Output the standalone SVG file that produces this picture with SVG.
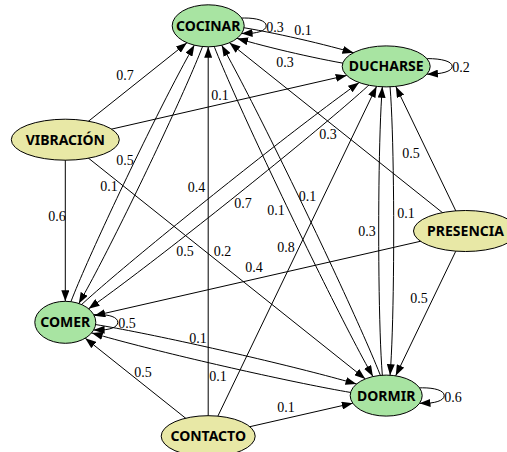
<svg xmlns="http://www.w3.org/2000/svg" width="507" height="452" viewBox="0 0 507 452">
<defs>
<style>
.e{fill:none;stroke:#000;stroke-width:1}
.h{marker-end:url(#ah)}
.a{fill:none;stroke:none;marker-end:url(#ah)}
.n ellipse{stroke:#000;stroke-width:1}
.s ellipse{fill:#a8e4a2}
.o ellipse{fill:#e8e8a6}
.n text{font-family:"Noto Sans","Open Sans",sans-serif;font-weight:bold;font-size:14px;text-anchor:middle;fill:#000}
.l{font-family:"Liberation Serif","Times New Roman",serif;font-size:14px;text-anchor:middle;fill:#000}
</style>
<marker id="ah" viewBox="0 0 11 8" refX="11" refY="4" markerWidth="11" markerHeight="8" markerUnits="userSpaceOnUse" orient="auto"><path d="M0,0L11,4L0,8z" fill="#000"/></marker>
</defs>
<rect width="507" height="452" fill="#fff"/>
<g id="connectors">
<!-- sensor edges (straight) -->
<g id="e-vibracion-cocinar"><path class="e h" d="M65.3,139.7L186.9,42.8"/><text class="l" x="125" y="80">0.7</text></g>
<g id="e-vibracion-ducharse"><path class="e h" d="M65.3,139.7L346.7,75.4"/><text class="l" x="220" y="100">0.1</text></g>
<g id="e-vibracion-comer"><path class="e h" d="M65.3,139.7L65.3,301.3"/><text class="l" x="57" y="221">0.6</text></g>
<g id="e-vibracion-dormir"><path class="e h" d="M65.3,139.7L365.3,378.9"/><text class="l" x="222.5" y="256">0.2</text></g>
<g id="e-presencia-cocinar"><path class="e h" d="M465.5,231L229.5,42.75"/><text class="l" x="328" y="139">0.3</text></g>
<g id="e-presencia-ducharse"><path class="e h" d="M465.5,231L395.8,86.4"/><text class="l" x="411" y="158">0.5</text></g>
<g id="e-presencia-comer"><path class="e h" d="M465.5,231L94.3,315.7"/><text class="l" x="254" y="272">0.4</text></g>
<g id="e-presencia-dormir"><path class="e h" d="M465.5,231L395.7,375.8"/><text class="l" x="419" y="303">0.5</text></g>
<g id="e-contacto-comer"><path class="e h" d="M208.2,436.2L85.2,338.2"/><text class="l" x="143" y="377">0.5</text></g>
<g id="e-contacto-cocinar"><path class="e h" d="M208.2,436.2L208.2,46.8"/><text class="l" x="185" y="256">0.5</text></g>
<g id="e-contacto-ducharse"><path class="e h" d="M208.2,436.2L376.6,86.4"/><text class="l" x="286" y="252">0.8</text></g>
<g id="e-contacto-dormir"><path class="e h" d="M208.2,436.2L352.8,403.2"/><text class="l" x="286" y="412">0.1</text></g>
<!-- state transitions (paired curves) -->
<g id="e-cocinar-ducharse"><path class="e" d="M208.2,25.8C210.4,16.05 388.4,56.65 386.2,66.4"/><path class="a" d="M342.7,49.8L353.5,52.75"/><text class="l" x="303" y="35">0.1</text></g>
<g id="e-ducharse-cocinar"><path class="e" d="M386.2,66.4C384,76.15 206,35.55 208.2,25.8"/><path class="a" d="M247.7,41.35L237.1,38.4"/><text class="l" x="285" y="67">0.3</text></g>
<g id="e-comer-cocinar"><path class="e" d="M65.3,322.3C56.3,318 199.2,21.5 208.2,25.8"/><path class="a" d="M189,54.5L194.4,45.1"/><text class="l" x="109" y="191">0.1</text></g>
<g id="e-cocinar-comer"><path class="e" d="M208.2,25.8C217.2,30.1 74.3,326.6 65.3,322.3"/><path class="a" d="M84.2,293.9L78.85,303.5"/><text class="l" x="125" y="165">0.5</text></g>
<g id="e-cocinar-dormir"><path class="e" d="M208.2,25.8C199.2,30.1 377.2,399.9 386.2,395.6"/><path class="a" d="M367.5,366.8L372.9,376.5"/><text class="l" x="276" y="215">0.1</text></g>
<g id="e-dormir-cocinar"><path class="e" d="M386.2,395.6C395.2,391.3 217.2,21.5 208.2,25.8"/><path class="a" d="M227.1,54.85L221.7,45.3"/><text class="l" x="307.5" y="201">0.1</text></g>
<g id="e-comer-ducharse"><path class="e" d="M65.3,322.3C59.1,314.5 380,58.6 386.2,66.4"/><path class="a" d="M349.8,89.3L359.15,82.6"/><text class="l" x="196.5" y="192">0.4</text></g>
<g id="e-ducharse-comer"><path class="e" d="M386.2,66.4C392.4,74.2 71.5,330.1 65.3,322.3"/><path class="a" d="M97.4,302.5L88.6,308.75"/><text class="l" x="243" y="208">0.7</text></g>
<g id="e-ducharse-dormir"><path class="e" d="M386.2,66.4C396.2,66.4 396.2,395.6 386.2,395.6"/><path class="a" d="M390.8,364.5L390.06,375.2"/><text class="l" x="406" y="218">0.1</text></g>
<g id="e-dormir-ducharse"><path class="e" d="M386.2,395.6C376.2,395.6 376.2,66.4 386.2,66.4"/><path class="a" d="M381.6,97.5L382.3,86.8"/><text class="l" x="367" y="236">0.3</text></g>
<g id="e-comer-dormir"><path class="e" d="M65.3,322.3C67.5,312.55 388.4,385.85 386.2,395.6"/><path class="a" d="M345.9,381L356.5,384.05"/><text class="l" x="198" y="343">0.1</text></g>
<g id="e-dormir-comer"><path class="e" d="M386.2,395.6C384,405.35 63.1,332.05 65.3,322.3"/><path class="a" d="M102.3,335.9L91.8,332.9"/><text class="l" x="218" y="381">0.1</text></g>
<!-- self loops -->
<g id="e-cocinar-cocinar"><path class="e" d="M208.2,25.8C227.5,15.4 266.2,15.4 266.2,25.8C266.2,36.2 227.5,36.2 208.2,25.8"/><path class="a" d="M252.9,33.1L241.6,33.55"/><text class="l" x="275" y="32">0.3</text></g>
<g id="e-ducharse-ducharse"><path class="e" d="M386.2,66.4C408.2,56 452.2,56 452.2,66.4C452.2,76.8 408.2,76.8 386.2,66.4"/><path class="a" d="M438,73.6L426.9,74.2"/><text class="l" x="461" y="72">0.2</text></g>
<g id="e-comer-comer"><path class="e" d="M65.3,322.3C82.8,311.9 117.8,311.9 117.8,322.3C117.8,332.7 82.8,332.7 65.3,322.3"/><path class="a" d="M104.4,329.8L93.6,330"/><text class="l" x="127" y="328">0.5</text></g>
<g id="e-dormir-dormir"><path class="e" d="M386.2,395.6C405.5,385.2 444.2,385.2 444.2,395.6C444.2,406 405.5,406 386.2,395.6"/><path class="a" d="M430.9,402.9L419.5,403.35"/><text class="l" x="453" y="402">0.6</text></g>
</g>
<g id="node-cocinar" class="n s"><ellipse cx="208.2" cy="25.8" rx="36" ry="21"/><text x="208.2" y="30.8">COCINAR</text></g>
<g id="node-ducharse" class="n s"><ellipse cx="386.2" cy="66.4" rx="44" ry="20.5"/><text x="386.2" y="71.4">DUCHARSE</text></g>
<g id="node-comer" class="n s"><ellipse cx="65.3" cy="322.3" rx="30.5" ry="21"/><text x="65.3" y="327.3">COMER</text></g>
<g id="node-dormir" class="n s"><ellipse cx="386.2" cy="395.6" rx="36" ry="20.5"/><text x="386.2" y="400.6">DORMIR</text></g>
<g id="node-vibracion" class="n o"><ellipse cx="65.3" cy="139.7" rx="54" ry="20.5"/><text x="65.3" y="144.7">VIBRACIÓN</text></g>
<g id="node-presencia" class="n o"><ellipse cx="465.5" cy="231" rx="52" ry="20.5"/><text x="465.5" y="236">PRESENCIA</text></g>
<g id="node-contacto" class="n o"><ellipse cx="208.2" cy="436.2" rx="47" ry="20.5"/><text x="208.2" y="441.2">CONTACTO</text></g>
</svg>
